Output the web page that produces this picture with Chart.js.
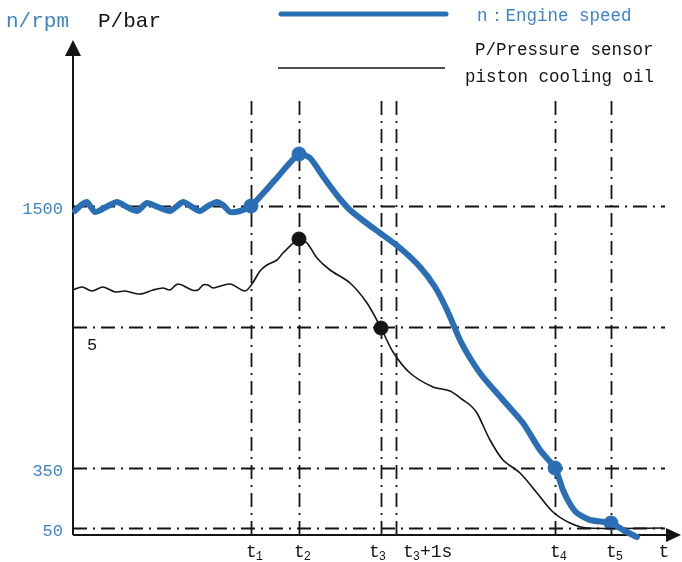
<!DOCTYPE html>
<html>
<head>
<meta charset="utf-8">
<script src="https://cdn.jsdelivr.net/npm/chart.js@4.4.1/dist/chart.umd.min.js"></script>
<style>
  html, body { margin: 0; padding: 0; background: #fff; }
  canvas { display: block; }
</style>
</head>
<body>
<canvas id="myChart" width="682" height="562"></canvas>
<script>
// engine speed n (schematic units along t and along the vertical axis)
const speedX = [2,7,14,22,33,44,54,64,74,85,97,110,119,127,135,144,151,157,167,178,202,226,237,247,257,267,277,292,307,327,347,362,374,387,397,410,430,450,467,482,490,497,504,517,538,550,564];
const speedY = [324,329,333,323,328,333,328,324,332,328,324,333,328,324,329,333,329,323,324,329,355,381,377,363,349,336,325,313,302,287,268,248,225,195,177,158,135,112,85,67,45,31,22,15,12,5,-2];

// piston cooling oil pressure P
const pressX = [0,9,19,30,42,52,67,80,90,97,105,119,125,130,135,140,157,172,179,187,194,204,210,226,234,244,257,277,294,308,320,337,360,377,390,397,404,417,430,447,464,480,497,514,590];
const pressY = [245,248,244,248,243,244,241,245,247,245,251,245,245,250,250,247,251,244,251,264,270,275,282,296,292,277,265,252,232,207,183,162,148,144,135,130,122,95,75,62,42,23,12,7,7];

// marked points
const speedMarkX = [178,226,482,538];
const speedMarkY = [329,381,67,12];
const pressMarkX = [226,308];
const pressMarkY = [296,207];

// reference levels and event times
const levelY = [329,208,67,7];
const levelLabels = ['1500','5','350','50'];
const eventX = [178,226,308,323,482,538];
const eventLabels = ['t1','t2','t3','t3+1s','t4','t5'];

const blueLine = '#2a6fb6';
const blueText = '#3f84c6';
const ink = '#141414';

function pts(xs, ys) { return xs.map((x, i) => ({ x: x, y: ys[i] })); }

const schematic = {
  id: 'schematic',
  beforeDatasetsDraw(chart) {
    const ctx = chart.ctx, sx = chart.scales.x, sy = chart.scales.y;
    const x0 = sx.getPixelForValue(0), y0 = sy.getPixelForValue(0);
    ctx.save();
    // dash-dot reference lines
    ctx.strokeStyle = ink;
    ctx.lineWidth = 1.8;
    ctx.setLineDash([14, 6, 2, 6]);
    levelY.forEach(v => {
      const py = Math.round(sy.getPixelForValue(v)) + 0.5;
      ctx.beginPath(); ctx.moveTo(x0, py); ctx.lineTo(sx.getPixelForValue(592), py); ctx.stroke();
    });
    eventX.forEach(v => {
      const px = Math.round(sx.getPixelForValue(v)) + 0.5;
      ctx.beginPath(); ctx.moveTo(px, y0); ctx.lineTo(px, sy.getPixelForValue(438)); ctx.stroke();
    });
    ctx.setLineDash([]);
    // axes with arrows
    ctx.lineWidth = 2;
    ctx.beginPath(); ctx.moveTo(x0, y0); ctx.lineTo(x0, sy.getPixelForValue(480)); ctx.stroke();
    ctx.beginPath(); ctx.moveTo(x0, y0); ctx.lineTo(sx.getPixelForValue(596), y0); ctx.stroke();
    ctx.fillStyle = ink;
    const ty = sy.getPixelForValue(495);
    ctx.beginPath(); ctx.moveTo(x0, ty); ctx.lineTo(x0 - 8, ty + 16); ctx.lineTo(x0 + 8, ty + 16); ctx.closePath(); ctx.fill();
    const tx = sx.getPixelForValue(608);
    ctx.beginPath(); ctx.moveTo(tx, y0); ctx.lineTo(tx - 15, y0 - 7); ctx.lineTo(tx - 15, y0 + 7); ctx.closePath(); ctx.fill();
    ctx.restore();
  },
  afterDraw(chart) {
    const ctx = chart.ctx, sx = chart.scales.x, sy = chart.scales.y;
    const font = '"Liberation Mono", "DejaVu Sans Mono", monospace';
    ctx.save();
    ctx.textBaseline = 'middle';
    // vertical axis levels
    ctx.font = '17px ' + font;
    levelY.forEach((v, i) => {
      const py = sy.getPixelForValue(v);
      if (levelLabels[i] === '5') {
        ctx.fillStyle = ink; ctx.textAlign = 'center';
        ctx.fillText('5', sx.getPixelForValue(19), py + 18);
      } else {
        ctx.fillStyle = blueText; ctx.textAlign = 'right';
        ctx.fillText(levelLabels[i], sx.getPixelForValue(-10), py + 3);
      }
    });
    // time labels with subscripts
    const shift = { 't3': -7, 't3+1s': 12 };
    const by = sy.getPixelForValue(0) + 22;
    eventX.forEach((v, i) => {
      const lab = eventLabels[i];
      let px = sx.getPixelForValue(v) + (shift[lab] || 0) - 5;
      ctx.fillStyle = ink; ctx.textAlign = 'left'; ctx.textBaseline = 'alphabetic';
      ctx.font = '18px ' + font;
      ctx.fillText('t', px, by);
      px += ctx.measureText('t').width;
      ctx.font = '12px ' + font;
      ctx.fillText(lab.charAt(1), px - 1, by + 3);
      px += ctx.measureText(lab.charAt(1)).width - 1;
      if (lab.length > 2) {
        ctx.font = '18px ' + font;
        ctx.fillText(lab.slice(2), px, by);
      }
    });
    ctx.font = '18px ' + font;
    ctx.textAlign = 'center';
    ctx.fillText('t', sx.getPixelForValue(591), by);
    // axis titles
    ctx.textAlign = 'left'; ctx.textBaseline = 'middle';
    ctx.font = '21px ' + font;
    ctx.fillStyle = blueText; ctx.fillText('n/rpm', 6, 21);
    ctx.fillStyle = ink; ctx.fillText('P/bar', 98, 21);
    // legend
    ctx.lineCap = 'round';
    ctx.strokeStyle = blueLine; ctx.lineWidth = 5;
    ctx.beginPath(); ctx.moveTo(281, 14); ctx.lineTo(446, 14); ctx.stroke();
    ctx.strokeStyle = ink; ctx.lineWidth = 1.6; ctx.lineCap = 'butt';
    ctx.beginPath(); ctx.moveTo(278, 68); ctx.lineTo(445, 68); ctx.stroke();
    ctx.font = '17.5px ' + font;
    ctx.fillStyle = blueText; ctx.fillText('n\uFF1AEngine speed', 477, 16);
    ctx.fillStyle = ink;
    ctx.fillText('P/Pressure sensor', 475, 50);
    ctx.fillText('piston cooling oil', 465, 77);
    ctx.restore();
  }
};

new Chart(document.getElementById('myChart'), {
  type: 'scatter',
  data: {
    datasets: [
      {
        label: 'n: Engine speed',
        data: pts(speedX, speedY),
        showLine: true,
        borderColor: blueLine,
        borderWidth: 6,
        borderCapStyle: 'round',
        borderJoinStyle: 'round',
        pointRadius: 0,
        tension: 0.22,
        clip: false
      },
      {
        label: 'P/Pressure sensor piston cooling oil',
        data: pts(pressX, pressY),
        showLine: true,
        borderColor: ink,
        borderWidth: 1.6,
        pointRadius: 0,
        tension: 0.3,
        clip: false
      },
      {
        label: 'n marks',
        data: pts(speedMarkX, speedMarkY),
        backgroundColor: blueLine,
        borderColor: blueLine,
        pointRadius: 7,
        clip: false
      },
      {
        label: 'P marks',
        data: pts(pressMarkX, pressMarkY),
        backgroundColor: ink,
        borderColor: ink,
        pointRadius: 7,
        clip: false
      }
    ]
  },
  options: {
    responsive: false,
    animation: false,
    layout: { autoPadding: false, padding: { left: 73, right: 0, top: 40, bottom: 27 } },
    plugins: { legend: { display: false }, tooltip: { enabled: false } },
    scales: {
      x: { type: 'linear', min: 0, max: 609, display: false },
      y: { type: 'linear', min: 0, max: 495, display: false }
    }
  },
  plugins: [schematic]
});
</script>
</body>
</html>
